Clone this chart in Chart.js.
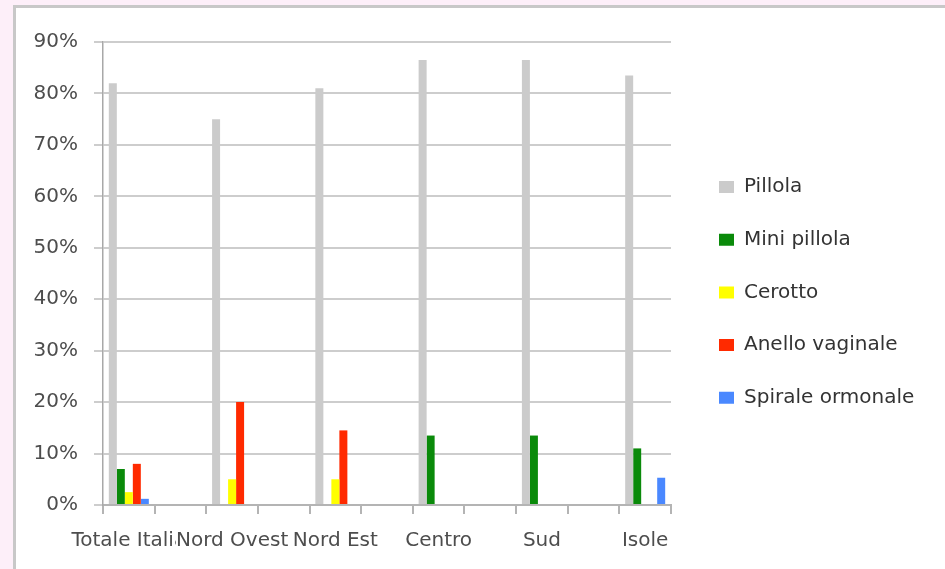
<!DOCTYPE html>
<html>
<head>
<meta charset="utf-8">
<script src="https://cdn.jsdelivr.net/npm/chart.js@4.4.1/dist/chart.umd.min.js"></script>
<style>
  html, body { margin: 0; padding: 0; }
  body { width: 945px; height: 569px; background: #fdeff9; position: relative; overflow: hidden; }
  #frame { position: absolute; left: 13px; top: 5px; width: 960px; height: 600px;
           background: #fff; border-left: 3px solid #c8c8c8; border-top: 3px solid #c8c8c8; }
  #chart { position: absolute; left: 0; top: 0; }
</style>
</head>
<body>
<div id="frame"></div>
<canvas id="chart" width="945" height="569"></canvas>
<script>
// Regions (each one is followed by an empty slot on the axis)
const categories = ['Totale Italia', 'Nord Ovest', 'Nord Est', 'Centro', 'Sud', 'Isole'];

// Percentages per method
const pillola     = [82, 75, 81, 86.5, 86.5, 83.5];
const miniPillola = [7, null, null, 13.5, 13.5, 11];
const cerotto     = [2.5, 5, 5, null, null, null];
const anello      = [8, 20, 14.5, null, null, null];
const spirale     = [1.2, null, null, null, null, 5.3];

// y-axis ticks
const yTicks = [0, 10, 20, 30, 40, 50, 60, 70, 80, 90];

// the original sheet has a blank row between regions
function spread(arr, blank) {
    const out = [];
    arr.forEach((v, i) => {
        out.push(v);
        if (i < arr.length - 1) out.push(blank);
    });
    return out;
}

const font = 'DejaVu Sans';

// put the legend where the original has it
const legendPlace = {
    id: 'legendPlace',
    afterLayout(chart) {
        const lg = chart.legend;
        const pad = chart.options.plugins.legend.labels.padding;
        lg.left = 719 - pad;
        lg.right = 945;
        lg.top = 177 - pad;
        lg.bottom = 569;
        lg.width = lg.right - lg.left;
        lg.height = lg.bottom - lg.top;
    }
};

const ctx = document.getElementById('chart').getContext('2d');
new Chart(ctx, {
    type: 'bar',
    data: {
        labels: spread(categories, ''),
        datasets: [
            { label: 'Pillola', data: spread(pillola, null), backgroundColor: '#cbcbcb' },
            { label: 'Mini pillola', data: spread(miniPillola, null), backgroundColor: '#0a8a0a' },
            { label: 'Cerotto', data: spread(cerotto, null), backgroundColor: '#ffff00' },
            { label: 'Anello vaginale', data: spread(anello, null), backgroundColor: '#ff2a00' },
            { label: 'Spirale ormonale', data: spread(spirale, null), backgroundColor: '#4a88ff' },
        ],
    },
    options: {
        responsive: false,
        animation: false,
        layout: { padding: { top: 42, right: 274, bottom: 0, left: 0 } },
        datasets: { bar: { barPercentage: 1, categoryPercentage: 0.775 } },
        scales: {
            x: {
                afterFit: (scale) => { scale.height = 64; },
                grid: { drawOnChartArea: false, drawTicks: true, tickLength: 9, color: '#b4b4b4', lineWidth: 2 },
                border: { display: true, color: '#b4b4b4', width: 2 },
                ticks: {
                    autoSkip: false, maxRotation: 0, minRotation: 0, padding: 15,
                    color: '#4d4d4d', font: { family: font, size: 20 },
                    showLabelBackdrop: true, backdropColor: '#ffffff', backdropPadding: 0,
                },
            },
            y: {
                min: 0,
                max: 90,
                afterFit: (scale) => { scale.width = 103; },
                afterBuildTicks: (scale) => { scale.ticks = yTicks.map(v => ({ value: v })); },
                grid: { color: '#cdcdcd', lineWidth: 2, tickLength: 9 },
                border: { display: true, color: '#a8a8a8', width: 1.5 },
                ticks: {
                    padding: 16,
                    color: '#4d4d4d', font: { family: font, size: 20 },
                    callback: (v) => v + '%',
                },
            },
        },
        plugins: {
            legend: {
                position: 'chartArea',
                align: 'start',
                labels: {
                    boxWidth: 15, boxHeight: 12, padding: 32.7,
                    color: '#333333', font: { family: font, size: 20 },
                },
            },
            tooltip: { enabled: false },
        },
    },
    plugins: [legendPlace],
});
</script>
</body>
</html>
